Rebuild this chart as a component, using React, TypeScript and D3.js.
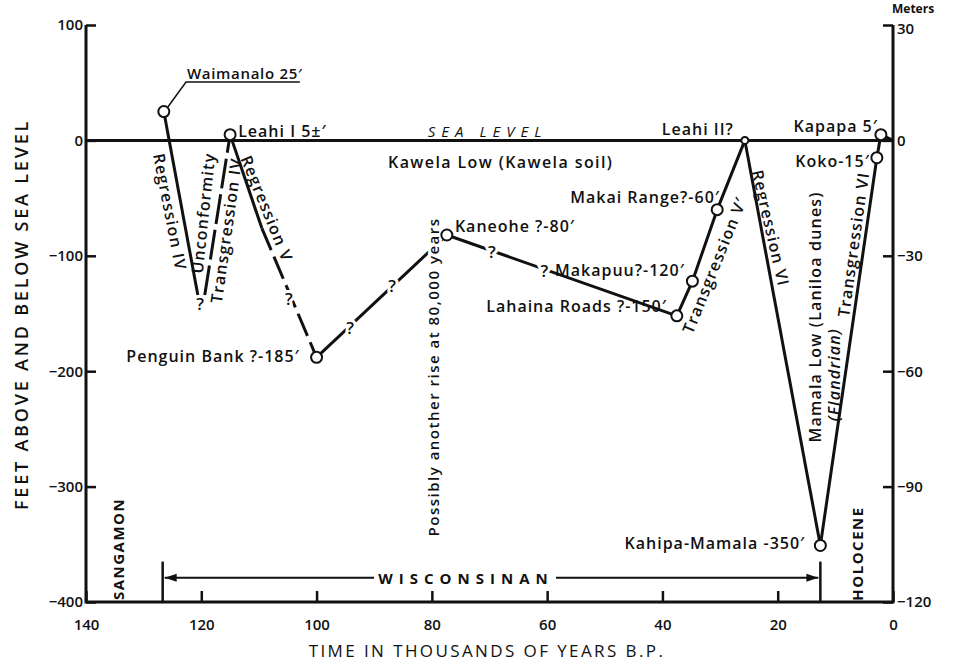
import { useRef, useEffect } from 'react';
import * as d3 from 'd3';

const FEET_TICKS = [100, 0, -100, -200, -300, -400];
const METER_TICKS = [30, 0, -30, -60, -90, -120];
const YEAR_TICKS = [140, 120, 100, 80, 60, 40, 20, 0];

// curve pieces as [thousands of years B.P., feet]
const REGRESSION_IV = [[126.5, 25], [120.6, -134]];
const TRANSGRESSION_IV = [[119.4, -134], [115, 5]];
const REGRESSION_V = [[115, 5], [109.5, -76]];
const REGRESSION_V_UNSURE = [[109.5, -76], [100, -188]];
const RISE_80K = [[100, -188], [77.4, -82]];
const FALL_TO_LAHAINA = [[77.4, -82], [37.5, -152]];
const TRANSGRESSION_V = [[37.5, -152], [34.8, -122], [30.5, -60], [25.7, 0]];
const REGRESSION_VI = [[25.7, 0], [12.6, -351]];
const TRANSGRESSION_VI = [[12.6, -351], [2.8, -15], [2.1, 5], [0, 0]];

const SITES = [
  { name: 'Waimanalo', t: 126.5, ft: 25 },
  { name: 'Leahi I', t: 115, ft: 5 },
  { name: 'Penguin Bank', t: 100, ft: -188 },
  { name: 'Kaneohe', t: 77.4, ft: -82 },
  { name: 'Lahaina Roads', t: 37.5, ft: -152 },
  { name: 'Makapuu', t: 34.8, ft: -122 },
  { name: 'Makai Range', t: 30.5, ft: -60 },
  { name: 'Kahipa-Mamala', t: 12.6, ft: -351 },
  { name: 'Koko', t: 2.8, ft: -15 },
  { name: 'Kapapa', t: 2.1, ft: 5 },
];
const LEAHI_II = { t: 25.7, ft: 0 };

// "?" marks sitting on the uncertain parts of the curve
const QUERIES = [[120.2, -141], [104.8, -137], [94.2, -162], [86.9, -126], [69.6, -96], [60.5, -113]];

const SITE_LABELS = [
  { text: 'Leahi I 5±′', t: 113.6, ft: 3, anchor: 'start' },
  { text: 'Penguin Bank ?-185′', t: 102.9, ft: -192, anchor: 'end' },
  { text: 'Kaneohe ?-80′', t: 76.0, ft: -79.5, anchor: 'start' },
  { text: 'Makai Range?-60′', t: 30.0, ft: -54.3, anchor: 'end' },
  { text: 'Makapuu?-120′', t: 36.1, ft: -117.6, anchor: 'end' },
  { text: 'Lahaina Roads ?-150′', t: 39.2, ft: -148.8, anchor: 'end' },
  { text: 'Leahi II?', t: 40.1, ft: 4.6, anchor: 'start' },
  { text: 'Kapapa 5′', t: 2.6, ft: 7.2, anchor: 'end' },
  { text: 'Koko-15′', t: 4.0, ft: -23.1, anchor: 'end' },
  { text: 'Kahipa-Mamala -350′', t: 15.2, ft: -354, anchor: 'end' },
];
const KAWELA = { text: 'Kawela Low (Kawela soil)', t: 87.6, ft: -24 };

const ROTATED_LABELS = [
  { text: 'Regression IV', t: 125.4, ft: -62, angle: 79 },
  { text: 'Unconformity', t: 119.7, ft: -63, angle: -84 },
  { text: 'Transgression IV', t: 115.7, ft: -78, angle: -82 },
  { text: 'Regression V', t: 108.6, ft: -59, angle: 68 },
  { text: 'Transgression V′', t: 31.0, ft: -108, angle: -68 },
  { text: 'Regression VI', t: 21.2, ft: -76, angle: 77 },
  { text: 'Mamala Low (Laniloa dunes)', t: 13.6, ft: -153, angle: -90 },
  { text: '(Flandrian)', t: 10.3, ft: -203, angle: -90, italic: true },
  { text: 'Transgression VI', t: 6.9, ft: -90, angle: -82 },
];

const STAGES = [
  { text: 'SANGAMON', t: 134.4, ft: -354 },
  { text: 'HOLOCENE', t: 6.2, ft: -358 },
];
const WISCONSINAN = { start: 126.7, end: 12.6 };
const RISE_NOTE = { text: 'Possibly another rise at 80,000 years', t: 79.8, ft: -205 };

const FONT = "'Open Sans', 'DejaVu Sans', sans-serif";
const INK = '#111';

export default function App() {
  const svgRef = useRef(null);
  const width = 963;
  const height = 667;

  useEffect(() => {
    const svg = d3.select(svgRef.current);
    svg.selectAll('*').remove();

    const margin = { top: 25, right: 70, bottom: 65, left: 86 };
    const x = d3.scaleLinear().domain([140, 0]).range([margin.left, width - margin.right]);
    const y = d3.scaleLinear().domain([100, -400]).range([margin.top, height - margin.bottom]);
    const yM = d3.scaleLinear().domain([30, -120]).range(y.range());

    const g = svg.attr('width', width).attr('height', height).append('g')
      .style('font-family', FONT).style('font-weight', 600);

    const styleAxis = (sel) => {
      sel.select('.domain').remove();
      sel.selectAll('.tick line').attr('stroke', INK).attr('stroke-width', 2.5);
      sel.selectAll('text').attr('fill', INK).style('font-size', '15px')
        .style('font-family', FONT).style('font-weight', 600);
    };

    // axes
    g.append('g').attr('transform', `translate(${x(140)},0)`)
      .call(d3.axisLeft(y).tickValues(FEET_TICKS).tickSize(-10).tickPadding(3))
      .call(styleAxis);
    g.append('g').attr('transform', `translate(${x(0)},0)`)
      .call(d3.axisRight(yM).tickValues(METER_TICKS).tickSize(-10).tickPadding(4))
      .call(styleAxis)
      .call((a) => a.selectAll('.tick text').filter((d) => d === 30).attr('dy', '0.55em'));
    g.append('g').attr('transform', `translate(0,${y(-400)})`)
      .call(d3.axisBottom(x).tickValues(YEAR_TICKS).tickSize(-11).tickPadding(17))
      .call(styleAxis);

    const frame = d3.path();
    frame.moveTo(x(140), y(100));
    frame.lineTo(x(140), y(-400));
    frame.lineTo(x(0), y(-400));
    frame.lineTo(x(0), yM(30));
    g.append('path').attr('d', frame.toString()).attr('fill', 'none')
      .attr('stroke', INK).attr('stroke-width', 3);

    g.append('text').attr('x', x(0) - 1).attr('y', 13).text('Meters')
      .attr('fill', INK).style('font-size', '12px').style('font-weight', 700);

    // axis titles
    g.append('text')
      .attr('transform', `translate(21,${(y(100) + y(-400)) / 2 + 1}) rotate(-90)`)
      .attr('text-anchor', 'middle').attr('dominant-baseline', 'central')
      .style('font-size', '18px').style('letter-spacing', '2.8px').attr('fill', INK)
      .text('FEET ABOVE AND BELOW SEA LEVEL');
    g.append('text')
      .attr('x', 487).attr('y', 657)
      .attr('text-anchor', 'middle').style('font-size', '17px')
      .style('letter-spacing', '2.4px').style('font-weight', 500).attr('fill', INK)
      .text('TIME IN THOUSANDS OF YEARS B.P.');

    // sea level
    g.append('line').attr('x1', x(140)).attr('x2', x(0)).attr('y1', y(0)).attr('y2', y(0))
      .attr('stroke', INK).attr('stroke-width', 3);
    g.append('text').attr('x', x(80.7)).attr('y', y(3)).text('SEA LEVEL')
      .attr('fill', INK).style('font-size', '15px').style('font-style', 'italic')
      .style('font-weight', 500).style('letter-spacing', '6px');

    // curve
    const line = d3.line().x((d) => x(d[0])).y((d) => y(d[1]));
    const pieces = [
      [REGRESSION_IV, null],
      [TRANSGRESSION_IV, '30 6'],
      [REGRESSION_V, null],
      [REGRESSION_V_UNSURE, '24 7'],
      [RISE_80K, null],
      [FALL_TO_LAHAINA, null],
      [TRANSGRESSION_V, null],
      [REGRESSION_VI, null],
      [TRANSGRESSION_VI, null],
    ];
    pieces.forEach(([pts, dash]) => {
      g.append('path').attr('d', line(pts)).attr('fill', 'none')
        .attr('stroke', INK).attr('stroke-width', 3).attr('stroke-linejoin', 'round')
        .attr('stroke-dasharray', dash);
    });

    // Waimanalo leader and underlined label
    const w = SITES[0];
    g.append('path').attr('fill', 'none').attr('stroke', INK).attr('stroke-width', 1.5)
      .attr('d', line([[125.8, 29], [122.65, 50.5], [102.9, 50.5]]));
    g.append('text').attr('x', x(122.5)).attr('y', y(53)).text(`${w.name} 25′`)
      .attr('fill', INK).style('font-size', '15px').style('letter-spacing', '0.7px');

    // vertical note breaking the 80 ka line
    g.append('text')
      .attr('transform', `translate(${x(RISE_NOTE.t)},${y(RISE_NOTE.ft)}) rotate(-90)`)
      .attr('text-anchor', 'middle').attr('dominant-baseline', 'central')
      .attr('stroke', 'white').attr('stroke-width', 6).attr('paint-order', 'stroke')
      .attr('fill', INK).style('font-size', '15px').style('letter-spacing', '1.5px')
      .text(RISE_NOTE.text);

    // question marks
    g.selectAll('text.q').data(QUERIES).join('text').attr('class', 'q')
      .attr('x', (d) => x(d[0])).attr('y', (d) => y(d[1]))
      .attr('text-anchor', 'middle').attr('dominant-baseline', 'central')
      .attr('stroke', 'white').attr('stroke-width', 6).attr('paint-order', 'stroke')
      .attr('fill', INK).style('font-size', '17px').text('?');

    // sites
    g.selectAll('circle.site').data(SITES).join('circle').attr('class', 'site')
      .attr('cx', (d) => x(d.t)).attr('cy', (d) => y(d.ft)).attr('r', 5.5)
      .attr('fill', 'white').attr('stroke', INK).attr('stroke-width', 2);
    g.append('circle').attr('cx', x(LEAHI_II.t)).attr('cy', y(LEAHI_II.ft)).attr('r', 3.5)
      .attr('fill', 'white').attr('stroke', INK).attr('stroke-width', 2);

    g.selectAll('text.site').data(SITE_LABELS).join('text').attr('class', 'site')
      .attr('x', (d) => x(d.t)).attr('y', (d) => y(d.ft))
      .attr('text-anchor', (d) => d.anchor)
      .attr('fill', INK).style('font-size', '16px').style('letter-spacing', '1px')
      .text((d) => d.text);
    g.append('text').attr('x', x(KAWELA.t)).attr('y', y(KAWELA.ft))
      .attr('fill', INK).style('font-size', '16px').style('letter-spacing', '1.4px')
      .text(KAWELA.text);

    g.selectAll('text.rot').data(ROTATED_LABELS).join('text').attr('class', 'rot')
      .attr('transform', (d) => `translate(${x(d.t)},${y(d.ft)}) rotate(${d.angle})`)
      .attr('text-anchor', 'middle').attr('dominant-baseline', 'central')
      .attr('fill', INK).style('font-size', '16px').style('letter-spacing', '1.2px')
      .style('font-style', (d) => (d.italic ? 'italic' : 'normal'))
      .text((d) => d.text);

    // stages
    g.selectAll('text.stage').data(STAGES).join('text').attr('class', 'stage')
      .attr('transform', (d) => `translate(${x(d.t)},${y(d.ft)}) rotate(-90)`)
      .attr('text-anchor', 'middle').attr('dominant-baseline', 'central')
      .attr('fill', INK).style('font-size', '15px').style('font-weight', 700)
      .style('letter-spacing', '1.5px').text((d) => d.text);

    // Wisconsinan span
    const yArrow = y(-379);
    [WISCONSINAN.start, WISCONSINAN.end].forEach((t) => {
      g.append('line').attr('x1', x(t)).attr('x2', x(t)).attr('y1', y(-365)).attr('y2', y(-400))
        .attr('stroke', INK).attr('stroke-width', 2.5);
    });
    g.append('line').attr('x1', x(WISCONSINAN.start) + 2).attr('x2', 374)
      .attr('y1', yArrow).attr('y2', yArrow).attr('stroke', INK).attr('stroke-width', 2);
    g.append('line').attr('x1', 556).attr('x2', x(WISCONSINAN.end) - 2)
      .attr('y1', yArrow).attr('y2', yArrow).attr('stroke', INK).attr('stroke-width', 2);
    const head = (tip, dir) => `M${tip},${yArrow}L${tip + dir * 12},${yArrow - 4}L${tip + dir * 12},${yArrow + 4}Z`;
    g.append('path').attr('d', head(x(WISCONSINAN.start) + 2, 1)).attr('fill', INK);
    g.append('path').attr('d', head(x(WISCONSINAN.end) - 2, -1)).attr('fill', INK);
    g.append('text').attr('x', 466).attr('y', yArrow).attr('text-anchor', 'middle')
      .attr('dominant-baseline', 'central').attr('fill', INK)
      .style('font-size', '15px').style('font-weight', 700).style('letter-spacing', '6px')
      .text('WISCONSINAN');
  }, []);

  return <svg ref={svgRef} style={{ position: 'absolute', left: 0, top: 0, background: 'white' }} />;
}
